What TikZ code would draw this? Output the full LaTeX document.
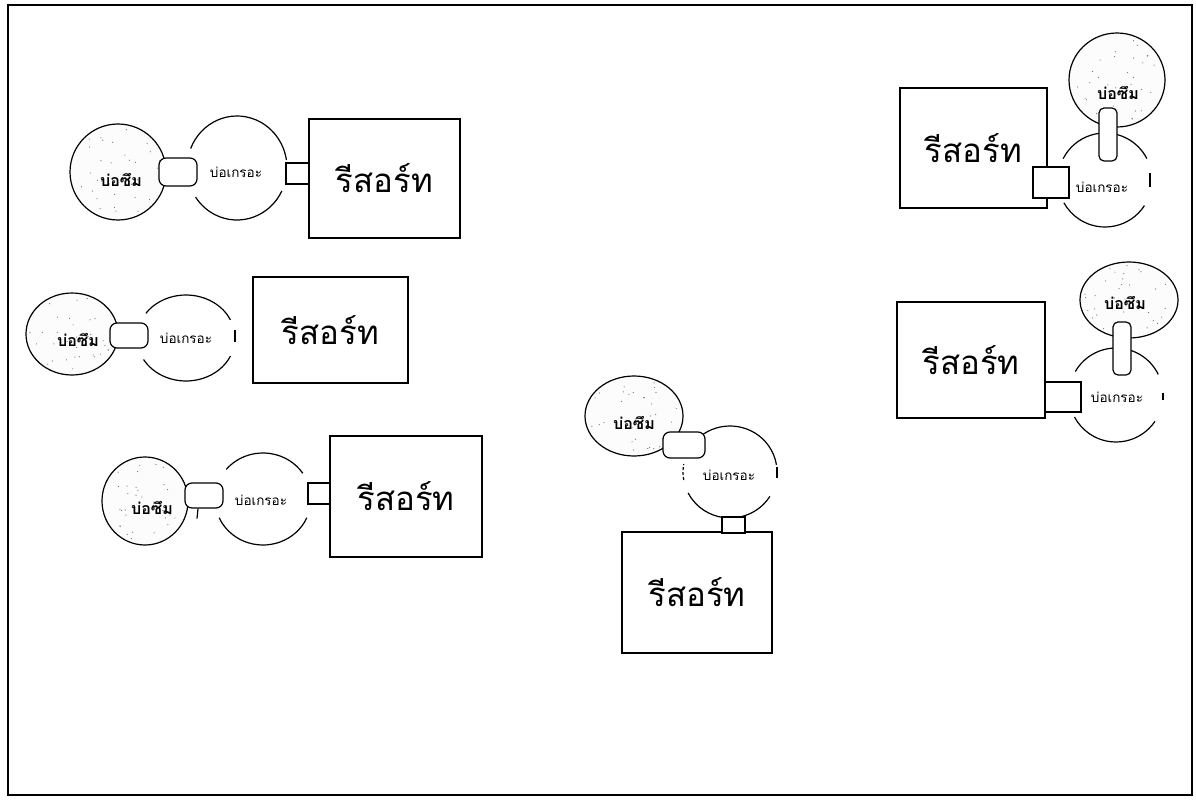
\documentclass[tikz,border=0pt]{standalone}
\usepackage{fontspec}
\newfontfamily\thai[Script=Thai]{Loma}
\usetikzlibrary{shapes.geometric}
\begin{document}
\begin{tikzpicture}[x=1pt,y=-1pt,
  line/.style={line width=1.2pt,black},
  pit/.style={ellipse,draw,line width=1.2pt,fill=gray!2,inner sep=0pt},
  pitlabel/.style={font=\thai\fontsize{16}{17}\selectfont\bfseries,inner sep=0pt},
  septlabel/.style={font=\thai\fontsize{13.5}{14}\selectfont,inner sep=0pt},
  pipe/.style={rectangle,rounded corners=7pt,draw,line width=1.2pt,fill=white,inner sep=0pt},
  conn/.style={rectangle,draw,line width=1.2pt,fill=white,inner sep=0pt},
  resort/.style={rectangle,draw,line width=1.3pt,fill=white,inner sep=0pt,font=\thai\fontsize{33}{35}\selectfont}
]
\useasboundingbox (0,0) rectangle (1196,805);
\draw[line width=1.4pt] (8,5) rectangle (1192,795);

\newcommand\stipple[4]{%
  \foreach \k in {1,...,32}{%
    \pgfmathsetmacro\aa{360*rnd}%
    \pgfmathsetmacro\rr{0.93*sqrt(rnd)}%
    \fill[black!55] ({#1+\rr*#3*cos(\aa)},{#2+\rr*#4*sin(\aa)}) circle[radius=0.6];
  }}
\newcommand\septarcs[8]{%
  \draw[line] (#1,#2) ++(#5:#3 and #4) arc[start angle=#5,end angle=#6,x radius=#3,y radius=#4];
  \draw[line] (#1,#2) ++(#7:#3 and #4) arc[start angle=#7,end angle=#8,x radius=#3,y radius=#4];}
\pgfmathsetseed{7}

% ---------- Group 1 ----------
\node[pit,minimum width=96,minimum height=96] (p1) at (118,172) {};
\stipple{118}{172}{48}{48}
\node[pitlabel] (pl1) at (121,180) {บ่อซึม};
\septarcs{237}{168}{50}{52}{202}{351}{26}{146}
\node[septlabel] (s1) at (236,172) {บ่อเกรอะ};
\node[pipe,minimum width=38,minimum height=28] (pp1) at (178,172) {};
\node[resort,minimum width=151,minimum height=119] (r1) at (384.5,178.5) {รีสอร์ท};
\node[conn,minimum width=23,minimum height=21] (c1) at (297.5,173.5) {};

% ---------- Group 2 ----------
\node[pit,minimum width=92,minimum height=82] (p2) at (72,334) {};
\stipple{72}{334}{46}{41}
\node[pitlabel] (pl2) at (78,340) {บ่อซึม};
\septarcs{186}{338}{49}{43}{215}{335}{25}{150}
\node[septlabel] (s2) at (186,338) {บ่อเกรอะ};
\draw[line] (235,330) -- (235,342);
\node[pipe,minimum width=38,minimum height=25] (pp2) at (129,335.5) {};
\node[resort,minimum width=155,minimum height=106] (r2) at (330.5,330) {รีสอร์ท};

% ---------- Group 3 ----------
\node[pit,minimum width=86,minimum height=88] (p3) at (145,501) {};
\stipple{145}{501}{43}{44}
\node[pitlabel] (pl3) at (152,508) {บ่อซึม};
\septarcs{263}{499}{48}{46}{220}{326}{24}{156}
\node[septlabel] (s3) at (261,500) {บ่อเกรอะ};
\node[pipe,minimum width=38,minimum height=25] (pp3) at (204,495.5) {};
\draw[line] (pp3.south) ++(-6,0) -- ++(-1,10);
\node[resort,minimum width=152,minimum height=121] (r3) at (406,496.5) {รีสอร์ท};
\node[conn,minimum width=22,minimum height=21] (c3) at (319,493.5) {};

% ---------- Group 4 ----------
\node[pit,minimum width=98,minimum height=80] (p4) at (634,416) {};
\stipple{634}{416}{49}{40}
\node[pitlabel] (pl4) at (634,423) {บ่อซึม};
\septarcs{730}{472}{47}{46}{235}{351}{32}{153}
\draw[line,densely dashed] (730,472) ++(170:47 and 46) arc[start angle=170,end angle=190,x radius=47,y radius=46];
\node[septlabel] (s4) at (729,475) {บ่อเกรอะ};
\draw[line] (777,467) -- (777,478);
\node[pipe,minimum width=42,minimum height=26] (pp4) at (684,445) {};
\node[resort,minimum width=150,minimum height=121] (r4) at (697,592.5) {รีสอร์ท};
\node[conn,minimum width=23,minimum height=16] (c4) at (733.5,525) {};

% ---------- Group 5 ----------
\node[pit,minimum width=96,minimum height=94] (p5) at (1117,80) {};
\stipple{1117}{80}{48}{47}
\node[pitlabel] (pl5) at (1118,93) {บ่อซึม};
\septarcs{1105}{180}{47}{47}{207}{333}{33}{151}
\node[septlabel] (s5) at (1102,187) {บ่อเกรอะ};
\draw[line] (1150,173) -- (1150,187);
\node[pipe,rounded corners=5pt,minimum width=18,minimum height=53] (pp5) at (1108,134.5) {};
\node[resort,minimum width=147,minimum height=120] (r5) at (973.5,148) {รีสอร์ท};
\node[conn,minimum width=36,minimum height=31] (c5) at (1051,182.5) {};

% ---------- Group 6 ----------
\node[pit,minimum width=98,minimum height=76] (p6) at (1129,300) {};
\stipple{1129}{300}{49}{38}
\node[pitlabel] (pl6) at (1125,303) {บ่อซึม};
\septarcs{1116}{395}{47}{47}{210}{334}{34}{152}
\node[septlabel] (s6) at (1117,397) {บ่อเกรอะ};
\draw[line] (1163,393) -- (1163,400);
\node[pipe,rounded corners=5pt,minimum width=18,minimum height=53] (pp6) at (1122,348.5) {};
\node[resort,minimum width=148,minimum height=116] (r6) at (971,360) {รีสอร์ท};
\node[conn,minimum width=36,minimum height=30] (c6) at (1063,397) {};
\end{tikzpicture}
\end{document}
